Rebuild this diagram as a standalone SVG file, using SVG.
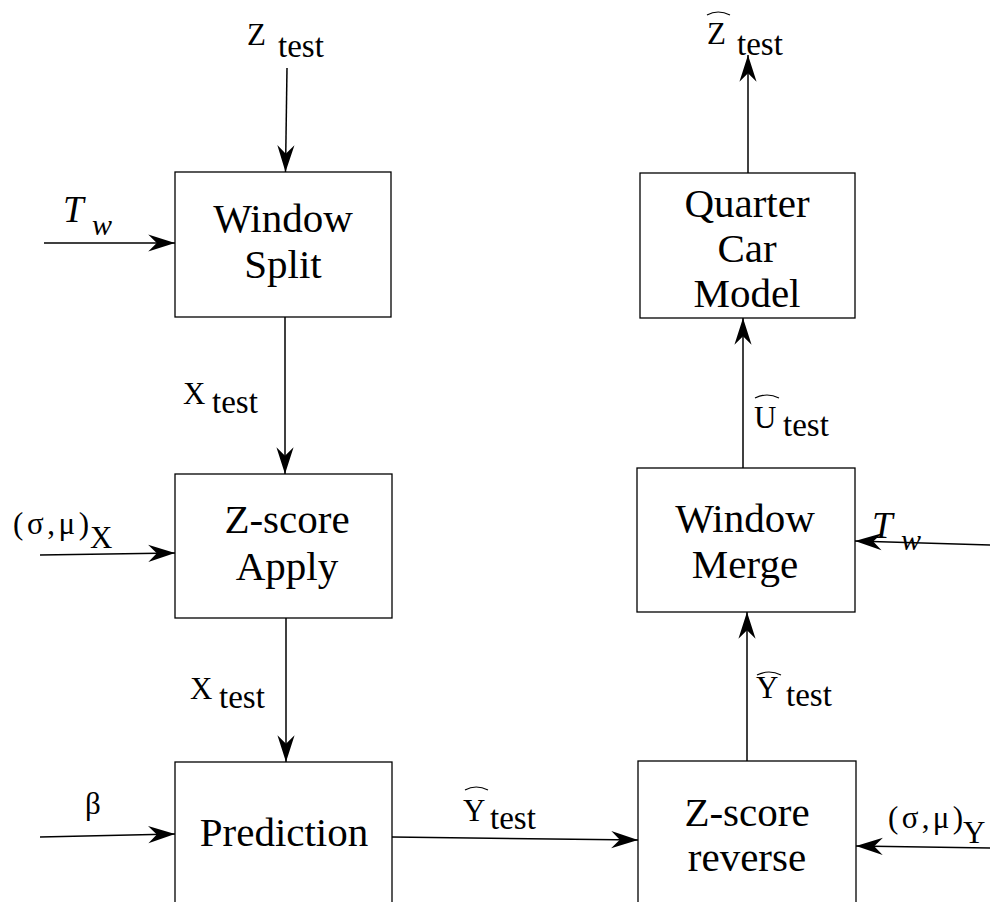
<svg xmlns="http://www.w3.org/2000/svg" width="995" height="902" viewBox="0 0 995 902">
<style>
.box{fill:#fff;stroke:#000;stroke-width:1.3}
text{font-family:"Liberation Serif","Times New Roman","DejaVu Serif",serif;fill:#000}
.bt{font-size:41px;text-anchor:middle}
.lb{font-size:31px}
.sb{font-size:33px}
.it{font-size:37px;font-style:italic}
.iw{font-size:30px;font-style:italic}
.ln{stroke:#000;stroke-width:1.5;fill:none;marker-end:url(#ah)}
.hat{stroke:#000;stroke-width:1.2;fill:none}
</style>
<defs>
<marker id="ah" markerUnits="userSpaceOnUse" markerWidth="30" markerHeight="20" viewBox="-26 -9 28 18" refX="0" refY="0" orient="auto">
<path d="M0,0 L-25,-8 L-17,0 L-25,8 Z" fill="#000"/>
</marker>
</defs>
<rect width="995" height="902" fill="#fff"/>
<g id="connectors">
<line class="ln" x1="287" y1="68" x2="285.5" y2="172"/>
<line class="ln" x1="44" y1="243" x2="175" y2="243"/>
<line class="ln" x1="285" y1="317" x2="285" y2="474"/>
<line class="ln" x1="40" y1="555" x2="175" y2="553"/>
<line class="ln" x1="286" y1="618" x2="286" y2="762"/>
<line class="ln" x1="40" y1="837" x2="175" y2="834"/>
<line class="ln" x1="392" y1="837" x2="638" y2="840"/>
<line class="ln" x1="747" y1="761" x2="747" y2="612"/>
<line class="ln" x1="743" y1="468" x2="743" y2="318"/>
<line class="ln" x1="748" y1="173" x2="748" y2="55"/>
<line class="ln" x1="990" y1="545" x2="855" y2="541"/>
<line class="ln" x1="990" y1="848" x2="856" y2="846"/>
</g>
<g id="window-split">
<rect class="box" x="175" y="172" width="216" height="145"/>
<text class="bt" x="283" y="232">Window</text>
<text class="bt" x="283" y="278">Split</text>
</g>
<g id="zscore-apply">
<rect class="box" x="175" y="474" width="217" height="144"/>
<text class="bt" x="287" y="533">Z-score</text>
<text class="bt" x="287" y="580">Apply</text>
</g>
<g id="prediction">
<rect class="box" x="175" y="762" width="217" height="160"/>
<text class="bt" x="284" y="846">Prediction</text>
</g>
<g id="quarter-car">
<rect class="box" x="640" y="173" width="215" height="145"/>
<text class="bt" x="747" y="217">Quarter</text>
<text class="bt" x="747" y="262">Car</text>
<text class="bt" x="747" y="307">Model</text>
</g>
<g id="window-merge">
<rect class="box" x="637" y="468" width="218" height="144"/>
<text class="bt" x="745" y="532">Window</text>
<text class="bt" x="745" y="578">Merge</text>
</g>
<g id="zscore-reverse">
<rect class="box" x="638" y="761" width="218" height="160"/>
<text class="bt" x="747" y="826">Z-score</text>
<text class="bt" x="747" y="871">reverse</text>
</g>
<g id="labels">
<text class="lb" x="247" y="45">Z</text>
<text class="sb" x="278" y="57">test</text>
<path class="hat" d="M707,15 Q718,9 730,15"/>
<text class="lb" x="707" y="44">Z</text>
<text class="sb" x="737" y="55">test</text>
<text class="it" x="63" y="222">T</text>
<text class="iw" x="92" y="235">w</text>
<text class="lb" x="183" y="404">X</text>
<text class="sb" x="212" y="413">test</text>
<text class="lb" x="13" y="534" textLength="76">(σ,μ)</text>
<text class="lb" x="90" y="548">X</text>
<text class="lb" x="190" y="699">X</text>
<text class="sb" x="219" y="708">test</text>
<text class="lb" x="85" y="814">β</text>
<path class="hat" d="M465,790 Q476,784 488,790"/>
<text class="lb" x="463" y="821">Y</text>
<text class="sb" x="490" y="829">test</text>
<path class="hat" d="M755,398 Q767,392 779,398"/>
<text class="lb" x="754" y="428">U</text>
<text class="sb" x="783" y="436">test</text>
<path class="hat" d="M757,675 Q769,669 781,675"/>
<text class="lb" x="756" y="698">Y</text>
<text class="sb" x="786" y="706">test</text>
<text class="it" x="872" y="538">T</text>
<text class="iw" x="901" y="550">w</text>
<text class="lb" x="888" y="828" textLength="75">(σ,μ)</text>
<text class="lb" x="963" y="843">Y</text>
</g>
</svg>
